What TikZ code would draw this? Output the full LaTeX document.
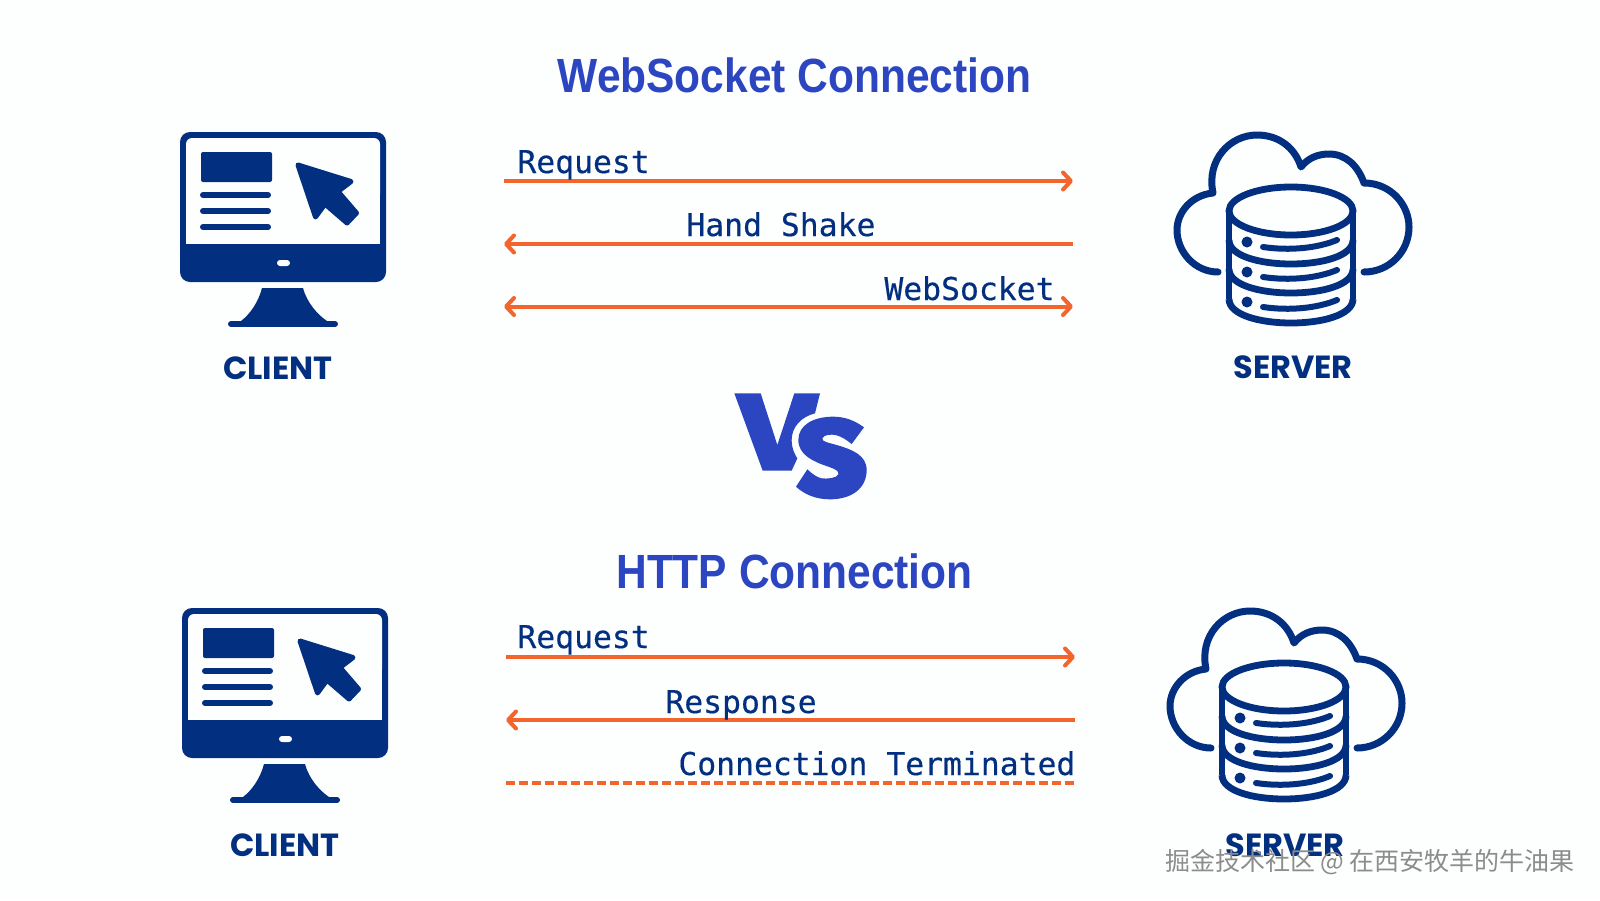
\documentclass[tikz,border=0pt]{standalone}
\usepackage{fontspec}
\usepackage{tikz}
\usetikzlibrary{arrows.meta}
\usepackage{xcolor}
\definecolor{navy}{RGB}{2,47,127}
\definecolor{royal}{RGB}{43,70,192}
\definecolor{flame}{RGB}{243,101,44}
\definecolor{paper}{RGB}{253,254,254}
\definecolor{mark}{RGB}{140,140,140}
\setmainfont{Liberation Sans}
\newfontfamily\titlefont[FakeStretch=0.885]{Liberation Sans}
\newfontfamily\iconfont{Poppins}
\newfontfamily\msgfont[FakeBold=0.35]{DejaVu Sans Mono}
\newfontfamily\cjk{Noto Sans CJK SC}

\tikzset{
  headline/.style={font=\titlefont\bfseries\fontsize{24}{30}\selectfont, text=royal, anchor=center, inner sep=0pt},
  iconlabel/.style={font=\iconfont\bfseries\fontsize{16}{18}\selectfont, text=navy, anchor=center, inner sep=0pt},
  msg/.style={font=\msgfont\fontsize{15.7}{18}\selectfont, text=navy, anchor=base west, inner sep=0pt},
  wire/.style={draw=flame, line width=2pt, >={Straight Barb[round,length=4pt,width=8.5pt]}},
  clientpic/.pic={
    \fill[navy, rounded corners=5pt] (180,132) rectangle (386,282);
    \fill[paper, rounded corners=3pt] (186,138) rectangle (380,200);
    \fill[paper] (186,170) rectangle (380,244);
    \fill[navy, rounded corners=1pt] (201,152) rectangle (272,182);
    \foreach \yl in {195,211,227} {
      \draw[navy, line width=3pt, line cap=round] (203,\yl) -- (268,\yl);
    }
    % cursor
    \fill[navy, draw=navy, line width=2.5pt, line join=round] (298,165) -- (351,181.5) -- (338,191.5) -- (356.5,213) -- (347,223) -- (325,204) -- (315.5,217) -- cycle;
    % power
    \fill[paper, rounded corners=1.5pt] (277,260) rectangle (290,266);
    % stand
    \fill[navy] (262,288) -- (303,288) .. controls (307,303) and (318,315) .. (327,321) -- (262,327) -- (241,321) .. controls (250,314) and (258,303) .. cycle;
    \draw[navy, line width=3pt, line cap=round] (231,324) -- (335,324);
  },
  serverpic/.pic={
    % cloud
    \draw[navy, line width=3.5pt, line cap=round, line join=round] (1218,272) .. controls (1195,272) and (1177,252) .. (1177,230) .. controls (1177,212) and (1192,195) .. (1213,193) .. controls (1206,160) and (1230,135) .. (1257,135) .. controls (1279,135) and (1295,148) .. (1301,167) .. controls (1308,158) and (1318,154) .. (1329,154) .. controls (1346,154) and (1358,166) .. (1364,183) .. controls (1391,183) and (1409,205) .. (1409,227) .. controls (1409,252) and (1389,272) .. (1364,272);
    % cylinder
    \draw[navy, line width=3.4pt] (1291,211) ellipse [x radius=62, y radius=24];
    \draw[navy, line width=3.4pt] (1229,211) -- (1229,299) (1353,211) -- (1353,299);
    \foreach \ya in {240,269,299} {
      \draw[navy, line width=3.4pt] (1229,\ya) .. controls (1229,\ya+32) and (1353,\ya+32) .. (1353,\ya);
    }
    % shelves
    \foreach \yb in {0,30,60} {
      \fill[navy] (1247,242+\yb) circle (5.5);
      \draw[navy, line width=3pt, line cap=round] (1263,247+\yb) .. controls (1290,251+\yb) and (1318,248+\yb) .. (1337,240+\yb);
    }
  }
}

\begin{document}
\begin{tikzpicture}[x=0.5pt, y=-0.5pt]
  \fill[paper] (0,0) rectangle (1600,900);
  \useasboundingbox (0,0) rectangle (1600,900);

  % Titles
  \node[headline] (wstitle) at (794.5,75) {WebSocket Connection};
  \node[headline] (httptitle) at (794.5,571) {HTTP Connection};

  % Icons
  \pic (clienta) at (0,0) {clientpic};
  \pic (servera) at (0,0) {serverpic};
  \pic (clientb) at (2,476) {clientpic};
  \pic (serverb) at (-7,476) {serverpic};

  \node[iconlabel] (clientalabel) at (278,368) {CLIENT};
  \node[iconlabel] (serveralabel) at (1293,367) {SERVER};
  \node[iconlabel] (clientblabel) at (285,845) {CLIENT};
  \node[iconlabel] (serverblabel) at (1285,845) {SERVER};

  % VS
  \begin{scope}[shift={(700,370)}, scale=1/3]
    \fill[royal] (103,70) -- (182,70) -- (232,225) -- (283,70) -- (360,70) -- (345,130) .. controls (305,140) and (275,170) .. (275,210) .. controls (275,235) and (285,255) .. (292,265) -- (275,302) -- (188,302) -- cycle;
    \fill[royal] (492,172) .. controls (465,152) and (435,140) .. (400,140) .. controls (340,140) and (295,165) .. (295,210) .. controls (295,255) and (340,275) .. (385,290) .. controls (405,297) and (418,303) .. (415,313) .. controls (410,325) and (380,327) .. (365,325) .. controls (350,322) and (335,310) .. (322,298) -- (288,350) .. controls (315,375) and (350,388) .. (390,388) .. controls (455,388) and (500,355) .. (500,300) .. controls (500,255) and (455,238) .. (410,225) .. controls (385,218) and (365,215) .. (367,205) .. controls (372,193) and (395,192) .. (410,196) .. controls (425,200) and (440,210) .. (455,222) -- cycle;
  \end{scope}

  % Endpoints
  \coordinate (wsal) at (504,181);
  \coordinate (wsar) at (1073,181);
  \coordinate (wsbl) at (504,244);
  \coordinate (wsbr) at (1073,244);
  \coordinate (wscl) at (504,306.5);
  \coordinate (wscr) at (1073,306.5);
  \coordinate (htal) at (506,657);
  \coordinate (htar) at (1075,657);
  \coordinate (htbl) at (506,720);
  \coordinate (htbr) at (1075,720);
  \coordinate (htcl) at (506,783);
  \coordinate (htcr) at (1075,783);

  \draw[wire, ->] (wsal) -- (wsar);
  \draw[wire, <-] (wsbl) -- (wsbr);
  \draw[wire, <->] (wscl) -- (wscr);
  \draw[wire, ->] (htal) -- (htar);
  \draw[wire, <-] (htbl) -- (htbr);
  \draw[wire, line width=2.2pt, dash pattern=on 4.5pt off 2pt] (htcl) -- (htcr);

  % Messages
  \node[msg] (wsreq) at (517,173) {Request};
  \node[msg] (wshand) at (686,236) {Hand Shake};
  \node[msg] (wssock) at (884,300) {WebSocket};
  \node[msg] (htreq) at (517,648) {Request};
  \node[msg] (htresp) at (665,713) {Response};
  \node[msg] (htterm) at (678,775) {Connection Terminated};

  % Watermark
  \node[font=\cjk\fontsize{12.5}{14}\selectfont, text=mark, anchor=center, inner sep=0pt] (stamp) at (1370,862) {掘金技术社区 @ 在西安牧羊的牛油果};
\end{tikzpicture}
\end{document}
